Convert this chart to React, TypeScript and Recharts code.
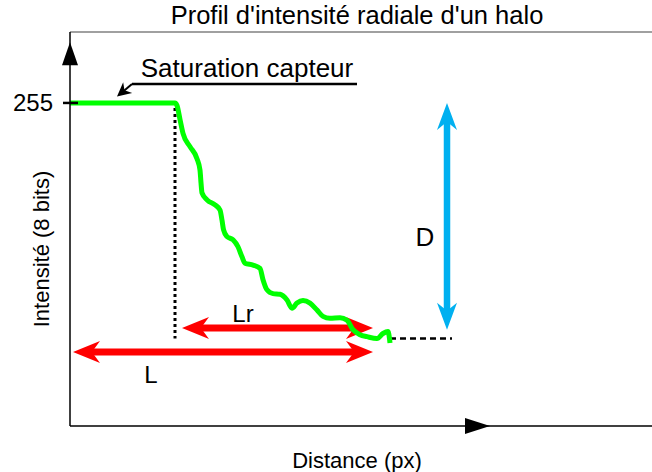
import { ComposedChart, Line, XAxis, YAxis, ReferenceLine, ReferenceDot } from 'recharts';

// radial profile of the halo (distance in px from axis, intensity 0-255)
const distance = [0, 105, 107, 110, 113, 120, 127, 130, 131, 132, 137, 145, 150, 152, 153.5, 157, 163, 168, 172, 175, 183, 190, 193, 197, 203, 210, 217, 222, 227, 233, 240, 247, 253, 260, 270, 277, 283, 290, 297, 307, 313, 318, 319.5, 320];
const intensity = [255, 255, 253, 242, 231, 220.5, 211, 202, 192, 184, 178.5, 174.5, 170.5, 162.5, 155, 149.5, 147, 141.5, 133.5, 128.5, 127, 124.5, 115.5, 107.5, 104.5, 104, 99.5, 93, 97, 99, 97, 91.5, 86.5, 85, 85.5, 83.5, 76, 72, 70.5, 69, 73, 74.5, 69, 65.5];

const yTicks = [255];
const saturation = 255;
const background = 69;
const plateauEnd = 105;
const haloEnd = 303;
const lStart = 3;
const lrStart = 112;
const lY = 58.4;
const lrY = 77.4;
const dX = 377;
const dBottom = 76;
const dashStart = 320;
const dashEnd = 382;
const leaderStart = { x: 62, y: 270 };
const leaderTip = { x: 47, y: 260 };
const underlineEnd = 287;

const profile = distance.map((d, i) => ({ distance: d, intensity: intensity[i] }));

const FONT = '"Liberation Sans", Arial, sans-serif';
const RED = '#ff0000';
const BLUE = '#00b0f0';
const GREEN = '#00ff00';

function arrowShape(color: string, width: number, head: number, half: number, start: boolean, end: boolean) {
  return (props: any) => {
    const { x1, y1, x2, y2 } = props;
    const dx = x2 - x1;
    const dy = y2 - y1;
    const len = Math.hypot(dx, dy) || 1;
    const ux = dx / len;
    const uy = dy / len;
    const px = -uy;
    const py = ux;
    const headPts = (tx: number, ty: number, dir: number) => {
      const bx = tx - dir * ux * head;
      const by = ty - dir * uy * head;
      const nx = tx - dir * ux * head * 0.7;
      const ny = ty - dir * uy * head * 0.7;
      return `${tx},${ty} ${bx + px * half},${by + py * half} ${nx},${ny} ${bx - px * half},${by - py * half}`;
    };
    const sx = start ? x1 + ux * head * 0.6 : x1;
    const sy = start ? y1 + uy * head * 0.6 : y1;
    const ex = end ? x2 - ux * head * 0.6 : x2;
    const ey = end ? y2 - uy * head * 0.6 : y2;
    return (
      <g>
        <line x1={sx} y1={sy} x2={ex} y2={ey} stroke={color} strokeWidth={width} />
        {start && <polygon points={headPts(x1, y1, -1)} fill={color} />}
        {end && <polygon points={headPts(x2, y2, 1)} fill={color} />}
      </g>
    );
  };
}

const UpArrowHead = (props: any) => {
  const { cx, cy } = props;
  return <polygon points={`${cx},${cy} ${cx - 8},${cy + 23} ${cx + 8},${cy + 23}`} fill="#000" />;
};

const RightArrowHead = (props: any) => {
  const { cx, cy } = props;
  return <polygon points={`${cx},${cy} ${cx - 25},${cy - 8} ${cx - 25},${cy + 8}`} fill="#000" />;
};

const SaturationTick = (props: any) => {
  const { x, y, payload } = props;
  return (
    <g>
      <line x1={x - 7} y1={y} x2={x + 8} y2={y} stroke="#000" strokeWidth={2.5} />
      <text x={x - 17} y={y} dy="0.35em" textAnchor="end" fontSize={24} fontFamily={FONT} fill="#000">
        {payload.value}
      </text>
    </g>
  );
};

const textLabel = (value: string, size: number) => ({
  value,
  position: 'center' as const,
  fontSize: size,
  fontFamily: FONT,
  fill: '#000',
});

export default function App() {
  return (
    <div style={{ position: 'absolute', left: 0, top: 0, width: 652, height: 472, background: '#fff', fontFamily: FONT }}>
      <div style={{ position: 'absolute', left: 66, top: 1, width: 582, textAlign: 'center', fontSize: 25.5, color: '#000' }}>
        Profil d'intensité radiale d'un halo
      </div>
      <ComposedChart width={652} height={472} data={profile} margin={{ top: 32, right: 0, bottom: 0, left: 0 }}>
        <XAxis
          dataKey="distance"
          type="number"
          domain={[0, 582]}
          height={46}
          tick={false}
          tickLine={false}
          axisLine={{ stroke: '#000', strokeWidth: 1.5 }}
          label={{ value: 'Distance (px)', position: 'insideBottom', offset: 4, dx: -4, fontSize: 22, fontFamily: FONT, fill: '#000' }}
        />
        <YAxis
          type="number"
          domain={[0, 311]}
          width={70}
          ticks={yTicks}
          tickSize={0}
          tickMargin={0}
          tickLine={false}
          tick={<SaturationTick />}
          axisLine={{ stroke: '#000', strokeWidth: 1.5 }}
          label={{ value: 'Intensité (8 bits)', angle: -90, position: 'center', dx: 6, dy: 20, fontSize: 22, fontFamily: FONT, fill: '#000' }}
        />
        <ReferenceLine y={311} stroke="#808080" strokeWidth={1.5} />
        <ReferenceDot x={0} y={303} r={0} shape={<UpArrowHead />} />
        <ReferenceDot x={420} y={0} r={0} shape={<RightArrowHead />} />

        {/* saturation annotation */}
        <ReferenceLine
          segment={[{ x: leaderStart.x, y: leaderStart.y }, { x: underlineEnd, y: leaderStart.y }]}
          stroke="#000"
          strokeWidth={2.5}
        />
        <ReferenceLine
          segment={[leaderStart, leaderTip]}
          shape={arrowShape('#000', 2, 14, 7, false, true)}
        />
        <ReferenceDot x={177} y={282.6} r={0} fill="none" stroke="none" label={textLabel('Saturation capteur', 26)} />

        {/* guides */}
        <ReferenceLine
          segment={[{ x: plateauEnd, y: 251 }, { x: plateauEnd, y: background }]}
          stroke="#000"
          strokeWidth={3}
          strokeDasharray="3 3"
        />
        <ReferenceLine
          segment={[{ x: dashStart, y: background }, { x: dashEnd, y: background }]}
          stroke="#000"
          strokeWidth={2.5}
          strokeDasharray="6 4"
        />

        {/* dimension arrows */}
        <ReferenceLine segment={[{ x: lrStart, y: lrY }, { x: haloEnd, y: lrY }]} shape={arrowShape(RED, 7, 27, 11, true, true)} />
        <ReferenceLine segment={[{ x: lStart, y: lY }, { x: haloEnd, y: lY }]} shape={arrowShape(RED, 7, 27, 11, true, true)} />
        <ReferenceLine segment={[{ x: dX, y: saturation }, { x: dX, y: dBottom }]} shape={arrowShape(BLUE, 6.5, 27, 10, true, true)} />
        <ReferenceDot x={173} y={89.2} r={0} fill="none" stroke="none" label={textLabel('Lr', 24)} />
        <ReferenceDot x={81} y={40.3} r={0} fill="none" stroke="none" label={textLabel('L', 24)} />
        <ReferenceDot x={355} y={149.2} r={0} fill="none" stroke="none" label={textLabel('D', 26)} />

        <Line
          type="monotone"
          dataKey="intensity"
          stroke={GREEN}
          strokeWidth={5}
          dot={false}
          activeDot={false}
          isAnimationActive={false}
        />
      </ComposedChart>
    </div>
  );
}
